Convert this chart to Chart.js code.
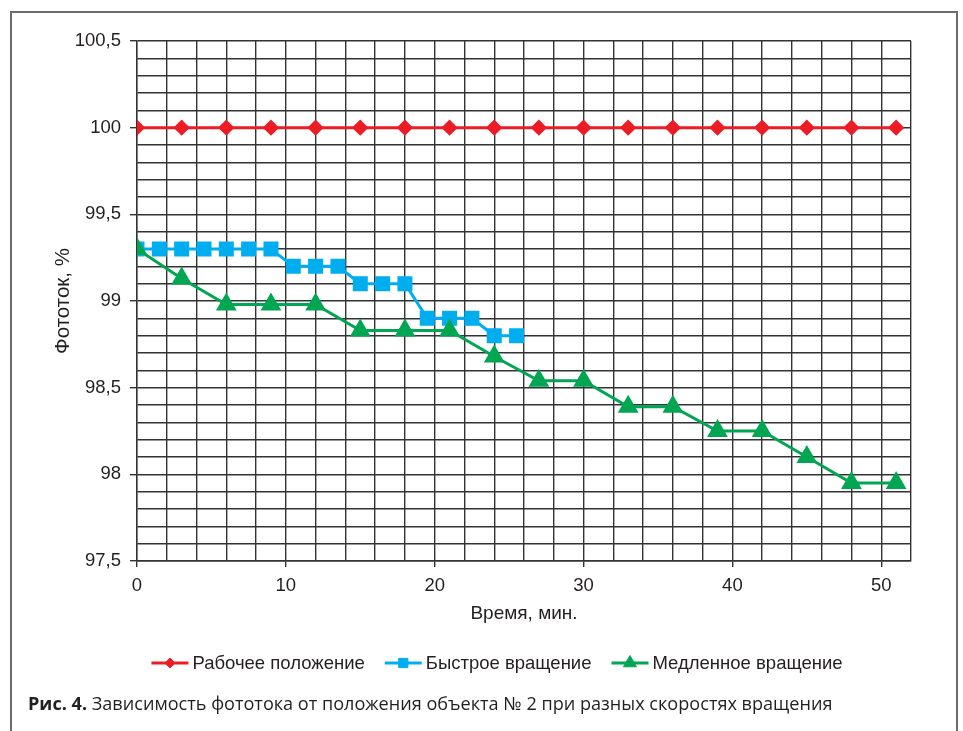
<!DOCTYPE html>
<html>
<head>
<meta charset="utf-8">
<script src="https://cdn.jsdelivr.net/npm/chart.js@4.4.1/dist/chart.umd.min.js"></script>
<style>
  html, body { margin: 0; padding: 0; background: #fff; }
  #wrap { position: relative; width: 963px; height: 731px; overflow: hidden; }
  #frame { position: absolute; left: 10px; top: 11px; width: 944px; height: 740px;
           border-top: 2px solid #6b6b6b; border-left: 2px solid #6b6b6b; border-right: 2px solid #6b6b6b; }
  canvas { position: absolute; left: 0; top: 0; }
  #caption { position: absolute; left: 28px; top: 691px; font-family: "Open Sans", "Noto Sans", sans-serif;
             font-size: 18.1px; color: #231f20; white-space: nowrap; }
  #caption b { font-weight: 700; }
</style>
</head>
<body>
<div id="wrap">
  <div id="frame"></div>
  <canvas id="c" width="963" height="731"></canvas>
  <div id="caption"><b>Рис. 4.</b> Зависимость фототока от положения объекта № 2 при разных скоростях вращения</div>
</div>
<script>
// ---- data ----
const seriesNames = ["Рабочее положение", "Быстрое вращение", "Медленное вращение"];
const timeWork = [0, 3, 6, 9, 12, 15, 18, 21, 24, 27, 30, 33, 36, 39, 42, 45, 48, 51];
const valuesWork = [100, 100, 100, 100, 100, 100, 100, 100, 100, 100, 100, 100, 100, 100, 100, 100, 100, 100];
const timeFast = [0, 1.5, 3, 4.5, 6, 7.5, 9, 10.5, 12, 13.5, 15, 16.5, 18, 19.5, 21, 22.5, 24, 25.5];
const valuesFast = [99.3, 99.3, 99.3, 99.3, 99.3, 99.3, 99.3, 99.2, 99.2, 99.2, 99.1, 99.1, 99.1, 98.9, 98.9, 98.9, 98.8, 98.8];
const timeSlow = [0, 3, 6, 9, 12, 15, 18, 21, 24, 27, 30, 33, 36, 39, 42, 45, 48, 51];
const valuesSlow = [99.3, 99.13, 98.98, 98.98, 98.98, 98.83, 98.83, 98.83, 98.68, 98.54, 98.54, 98.39, 98.39, 98.25, 98.25, 98.1, 97.95, 97.95];
const xMajorTicks = [0, 10, 20, 30, 40, 50];
const yMajorTicks = ["97,5", "98", "98,5", "99", "99,5", "100", "100,5"];

const colors = ["#ed1c24", "#00aeef", "#00a651"];
const legendMarkerRadius = [5, 6.5, 7.5];
const pts = (xs, ys) => xs.map((x, i) => ({ x: x, y: ys[i] }));

const FONT = "'Liberation Sans', Arial, sans-serif";
const TEXT = "#231f20";

const legendPlugin = {
  id: "customLegend",
  afterDraw(chart) {
    const ctx = chart.ctx;
    const y = 663;
    ctx.save();
    ctx.font = "18.5px " + FONT;
    ctx.textBaseline = "middle";
    const lineW = 37, gap = 4, spacing = 20;
    const items = chart.data.datasets.map((ds, i) => ({ ds, i, w: ctx.measureText(ds.label).width }));
    let total = 0;
    items.forEach((it, i) => { total += lineW + gap + it.w + (i < items.length - 1 ? spacing : 0); });
    let x = 497 - total / 2;
    items.forEach(it => {
      const ds = it.ds;
      ctx.strokeStyle = ds.borderColor;
      ctx.lineWidth = 3;
      ctx.beginPath(); ctx.moveTo(x, y); ctx.lineTo(x + lineW, y); ctx.stroke();
      ctx.save();
      ctx.fillStyle = ds.pointBackgroundColor;
      ctx.strokeStyle = ds.pointBorderColor;
      ctx.lineWidth = 1;
      Chart.helpers.drawPoint(ctx, { pointStyle: ds.pointStyle, radius: legendMarkerRadius[it.i], borderWidth: 1, rotation: 0 }, x + lineW / 2, y);
      ctx.restore();
      ctx.fillStyle = TEXT;
      ctx.fillText(ds.label, x + lineW + gap, y + 1);
      x += lineW + gap + it.w + spacing;
    });
    ctx.restore();
  }
};

function majorX(v) { return Math.abs(v % 10) < 1e-6; }
function majorY(v) { return Math.abs(Math.round(v * 10) % 5) === 0; }
function fmtY(v) {
  const r = Math.round(v * 10) / 10;
  const idx = Math.round((r - 97.5) / 0.5);
  return yMajorTicks[idx];
}

new Chart(document.getElementById("c"), {
  type: "line",
  data: {
    datasets: [
      { label: seriesNames[0], data: pts(timeWork, valuesWork), borderColor: colors[0], backgroundColor: colors[0],
        pointBackgroundColor: colors[0], pointBorderColor: colors[0], pointStyle: "rectRot", pointRadius: 6, borderWidth: 3, order: 2 },
      { label: seriesNames[1], data: pts(timeFast, valuesFast), borderColor: colors[1], backgroundColor: colors[1],
        pointBackgroundColor: colors[1], pointBorderColor: colors[1], pointStyle: "rect", pointRadius: 8.5, borderWidth: 3, order: 1 },
      { label: seriesNames[2], data: pts(timeSlow, valuesSlow), borderColor: colors[2], backgroundColor: colors[2],
        pointBackgroundColor: colors[2], pointBorderColor: colors[2], pointStyle: "triangle", pointRadius: 9, borderWidth: 3, order: 0 }
    ]
  },
  options: {
    responsive: false,
    animation: false,
    layout: { padding: { left: 40, right: 52, top: 41, bottom: 105 } },
    plugins: { legend: { display: false }, tooltip: { enabled: false } },
    elements: { line: { tension: 0 }, point: { borderWidth: 1, hoverRadius: 0 } },
    scales: {
      x: {
        type: "linear", min: 0, max: 52,
        ticks: {
          stepSize: 2, autoSkip: false, maxRotation: 0, padding: 8, color: TEXT,
          font: { family: FONT, size: 18.5 },
          callback: (v) => { const i = xMajorTicks.indexOf(Math.round(v)); return (majorX(v) && i >= 0) ? String(xMajorTicks[i]) : ""; }
        },
        grid: { color: "#333", lineWidth: 1.4, tickLength: 6,
                tickColor: (c) => (c.tick && majorX(c.tick.value) && c.tick.value <= 50) ? "#333" : "rgba(0,0,0,0)" },
        border: { color: "#333", width: 1.4 },
        title: { display: true, text: "Время, мин.", color: TEXT, font: { family: FONT, size: 19 }, padding: { top: 0, bottom: 1 } },
        afterFit: (s) => { s.height = 65; }
      },
      y: {
        type: "linear", min: 97.5, max: 100.5,
        ticks: {
          stepSize: 0.1, autoSkip: false, padding: 9, color: TEXT,
          font: { family: FONT, size: 18.5 },
          callback: (v) => majorY(v) ? fmtY(v) : ""
        },
        grid: { color: "#333", lineWidth: 1.4, tickLength: 7,
                tickColor: (c) => (c.tick && majorY(c.tick.value)) ? "#333" : "rgba(0,0,0,0)" },
        border: { color: "#333", width: 1.4 },
        title: { display: true, text: "Фототок, %", color: TEXT, font: { family: FONT, size: 20.5 }, padding: { top: 11, bottom: 0 } },
        afterFit: (s) => { s.width = 97; }
      }
    }
  },
  plugins: [legendPlugin]
});
</script>
</body>
</html>
